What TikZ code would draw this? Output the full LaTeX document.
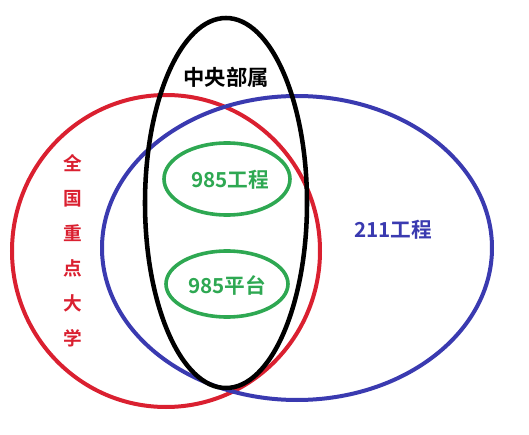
\documentclass[tikz,border=0pt]{standalone}
\usepackage{fontspec}
\newfontfamily\cjk{Noto Sans CJK SC}[BoldFont={Noto Sans CJK SC Bold}]
\usepackage{tikz}

\begin{document}
\begin{tikzpicture}[x=0.75pt,y=0.75pt,yscale=-1,xscale=1]
\useasboundingbox (0,0) rectangle (529,435); %set diagram size

%Shape: Ellipse [id:red]
\draw  [color={rgb, 255:red, 218; green, 32; blue, 48 }  ,line width=3]  (166,251) ellipse (154 and 156) ;
%Shape: Ellipse [id:blue]
\draw  [color={rgb, 255:red, 58; green, 58; blue, 176 }  ,line width=3]  (297,248) ellipse (195 and 152) ;
%Shape: Ellipse [id:black]
\draw  [line width=3.4]  (226,203) ellipse (81 and 185) ;
%Shape: Ellipse [id:green1]
\draw  [color={rgb, 255:red, 46; green, 168; blue, 82 }  ,line width=2.7]  (227,179) ellipse (63 and 36) ;
%Shape: Ellipse [id:green2]
\draw  [color={rgb, 255:red, 46; green, 168; blue, 82 }  ,line width=2.7]  (227,284) ellipse (61 and 33) ;

% Text Node
\draw (226,77) node [inner sep=0.75pt,font={\cjk\bfseries\fontsize{16}{19}\selectfont}] (zy) {中央部属};
% Text Node
\draw (230,180) node [color={rgb, 255:red, 46; green, 168; blue, 82 }  ,inner sep=0.75pt,font={\cjk\bfseries\fontsize{15.5}{18}\selectfont}] (gc) {985工程};
% Text Node
\draw (227,285) node [color={rgb, 255:red, 46; green, 168; blue, 82 }  ,inner sep=0.75pt,font={\cjk\bfseries\fontsize{15.5}{18}\selectfont}] (pt) {985平台};
% Text Node
\draw (393,230) node [color={rgb, 255:red, 58; green, 58; blue, 176 }  ,inner sep=0.75pt,font={\cjk\bfseries\fontsize{15.5}{18}\selectfont}] (eyy) {211工程};
% Text Node
\draw (73,251) node [color={rgb, 255:red, 218; green, 32; blue, 48 }  ,inner sep=0.75pt,align=center,font={\cjk\bfseries\fontsize{14}{26.25}\selectfont}] (qg) {全\\国\\重\\点\\大\\学};

\end{tikzpicture}
\end{document}
